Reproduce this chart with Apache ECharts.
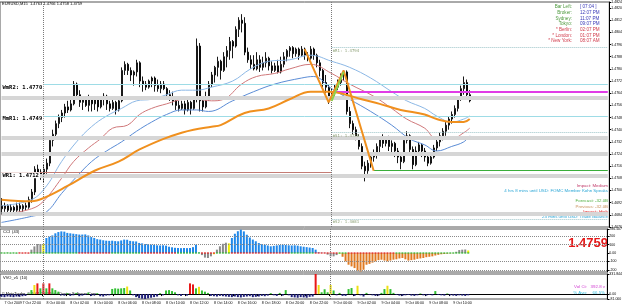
<!DOCTYPE html>
<html>
<head>
<meta charset="utf-8">
<script src="https://cdn.jsdelivr.net/npm/echarts@6/dist/echarts.min.js"></script>
<style>
  html, body { margin: 0; padding: 0; background: #fff; }
  #chart { width: 625px; height: 308px; }
</style>
</head>
<body>
<div id="chart"></div>
<script>
// EURUSD M15, one candle per 15 minutes: [open, close, low, high]
const candles = [
  [1.4690,1.4688,1.4684,1.4695],[1.4688,1.4690,1.4686,1.4692],[1.4690,1.4687,1.4685,1.4691],[1.4687,1.4689,1.4685,1.4691],
  [1.4689,1.4687,1.4685,1.4690],[1.4687,1.4690,1.4686,1.4692],[1.4690,1.4688,1.4686,1.4692],[1.4688,1.4690,1.4686,1.4691],
  [1.4690,1.4689,1.4687,1.4692],[1.4689,1.4694,1.4688,1.4696],[1.4694,1.4699,1.4692,1.4701],[1.4699,1.4714,1.4697,1.4716],
  [1.4714,1.4712,1.4709,1.4717],[1.4712,1.4710,1.4707,1.4714],[1.4710,1.4714,1.4705,1.4717],[1.4714,1.4718,1.4711,1.4721],
  [1.4718,1.4733,1.4716,1.4735],[1.4733,1.4737,1.4729,1.4740],[1.4737,1.4744,1.4734,1.4746],[1.4744,1.4748,1.4741,1.4750],
  [1.4748,1.4751,1.4745,1.4753],[1.4751,1.4755,1.4748,1.4757],[1.4755,1.4753,1.4751,1.4759],[1.4753,1.4757,1.4752,1.4760],
  [1.4757,1.4770,1.4756,1.4772],[1.4770,1.4763,1.4762,1.4771],[1.4763,1.4758,1.4755,1.4766],[1.4758,1.4760,1.4753,1.4762],
  [1.4760,1.4756,1.4755,1.4762],[1.4756,1.4761,1.4752,1.4763],[1.4761,1.4757,1.4752,1.4762],[1.4757,1.4760,1.4753,1.4762],
  [1.4760,1.4755,1.4752,1.4761],[1.4755,1.4760,1.4754,1.4762],[1.4760,1.4762,1.4756,1.4764],[1.4762,1.4757,1.4753,1.4763],
  [1.4757,1.4754,1.4752,1.4759],[1.4754,1.4758,1.4753,1.4760],[1.4758,1.4753,1.4750,1.4759],[1.4753,1.4759,1.4752,1.4762],
  [1.4759,1.4779,1.4758,1.4781],[1.4779,1.4783,1.4776,1.4785],[1.4783,1.4779,1.4776,1.4784],[1.4779,1.4776,1.4772,1.4781],
  [1.4776,1.4778,1.4769,1.4779],[1.4778,1.4784,1.4775,1.4786],[1.4784,1.4772,1.4768,1.4785],[1.4772,1.4770,1.4765,1.4775],
  [1.4770,1.4768,1.4766,1.4772],[1.4768,1.4772,1.4767,1.4773],[1.4772,1.4774,1.4768,1.4775],[1.4774,1.4769,1.4765,1.4775],
  [1.4769,1.4767,1.4765,1.4773],[1.4767,1.4770,1.4764,1.4772],[1.4770,1.4767,1.4766,1.4772],[1.4767,1.4763,1.4762,1.4768],
  [1.4763,1.4761,1.4759,1.4766],[1.4761,1.4759,1.4756,1.4765],[1.4759,1.4756,1.4753,1.4762],[1.4756,1.4754,1.4752,1.4759],
  [1.4754,1.4757,1.4753,1.4759],[1.4757,1.4753,1.4750,1.4759],[1.4753,1.4758,1.4752,1.4762],[1.4758,1.4754,1.4750,1.4759],
  [1.4754,1.4761,1.4753,1.4762],[1.4761,1.4795,1.4758,1.4800],[1.4795,1.4759,1.4752,1.4797],[1.4759,1.4755,1.4752,1.4762],
  [1.4755,1.4761,1.4754,1.4765],[1.4761,1.4770,1.4759,1.4772],[1.4770,1.4776,1.4768,1.4778],[1.4776,1.4781,1.4771,1.4782],
  [1.4781,1.4785,1.4775,1.4788],[1.4785,1.4779,1.4773,1.4786],[1.4779,1.4788,1.4778,1.4791],[1.4788,1.4792,1.4781,1.4795],
  [1.4792,1.4798,1.4786,1.4801],[1.4798,1.4795,1.4787,1.4799],[1.4795,1.4806,1.4794,1.4808],[1.4806,1.4812,1.4801,1.4814],
  [1.4812,1.4810,1.4804,1.4816],[1.4810,1.4791,1.4789,1.4814],[1.4791,1.4786,1.4784,1.4794],[1.4786,1.4783,1.4780,1.4789],
  [1.4783,1.4780,1.4779,1.4789],[1.4780,1.4786,1.4779,1.4791],[1.4786,1.4781,1.4778,1.4789],[1.4781,1.4784,1.4779,1.4788],
  [1.4784,1.4787,1.4781,1.4791],[1.4787,1.4782,1.4779,1.4788],[1.4782,1.4779,1.4777,1.4785],[1.4779,1.4782,1.4778,1.4784],
  [1.4782,1.4778,1.4777,1.4786],[1.4778,1.4783,1.4777,1.4788],[1.4783,1.4788,1.4781,1.4791],[1.4788,1.4792,1.4785,1.4793],
  [1.4792,1.4794,1.4788,1.4795],[1.4794,1.4790,1.4787,1.4795],[1.4790,1.4793,1.4788,1.4794],[1.4793,1.4789,1.4786,1.4794],
  [1.4789,1.4793,1.4788,1.4795],[1.4793,1.4789,1.4786,1.4794],[1.4789,1.4787,1.4785,1.4791],[1.4787,1.4793,1.4786,1.4795],
  [1.4793,1.4789,1.4786,1.4794],[1.4789,1.4784,1.4781,1.4790],[1.4784,1.4779,1.4775,1.4786],[1.4779,1.4771,1.4768,1.4780],
  [1.4771,1.4768,1.4764,1.4776],[1.4768,1.4762,1.4757,1.4770],[1.4762,1.4765,1.4759,1.4767],[1.4765,1.4768,1.4762,1.4770],
  [1.4768,1.4771,1.4766,1.4773],[1.4771,1.4776,1.4769,1.4777],[1.4776,1.4778,1.4772,1.4779],[1.4778,1.4752,1.4750,1.4779],
  [1.4752,1.4744,1.4741,1.4755],[1.4744,1.4740,1.4737,1.4746],[1.4740,1.4735,1.4733,1.4742],[1.4735,1.4729,1.4727,1.4737],
  [1.4729,1.4716,1.4714,1.4731],[1.4716,1.4713,1.4706,1.4719],[1.4713,1.4718,1.4711,1.4720],[1.4718,1.4722,1.4715,1.4724],
  [1.4722,1.4725,1.4719,1.4727],[1.4725,1.4729,1.4721,1.4731],[1.4729,1.4734,1.4725,1.4735],[1.4734,1.4731,1.4728,1.4737],
  [1.4731,1.4734,1.4729,1.4735],[1.4734,1.4729,1.4726,1.4736],[1.4729,1.4731,1.4725,1.4733],[1.4731,1.4726,1.4722,1.4732],
  [1.4726,1.4722,1.4718,1.4728],[1.4722,1.4719,1.4714,1.4724],[1.4719,1.4733,1.4718,1.4735],[1.4733,1.4736,1.4731,1.4739],
  [1.4736,1.4727,1.4724,1.4737],[1.4727,1.4717,1.4714,1.4729],[1.4717,1.4726,1.4716,1.4729],[1.4726,1.4730,1.4724,1.4732],
  [1.4730,1.4726,1.4722,1.4731],[1.4726,1.4722,1.4719,1.4728],[1.4722,1.4718,1.4716,1.4724],[1.4718,1.4722,1.4717,1.4725],
  [1.4722,1.4728,1.4721,1.4730],[1.4728,1.4732,1.4726,1.4734],[1.4732,1.4736,1.4729,1.4738],[1.4736,1.4739,1.4733,1.4741],
  [1.4739,1.4743,1.4736,1.4745],[1.4743,1.4747,1.4740,1.4749],[1.4747,1.4750,1.4744,1.4752],[1.4750,1.4754,1.4748,1.4756],
  [1.4754,1.4760,1.4752,1.4762],[1.4760,1.4767,1.4759,1.4769],[1.4767,1.4771,1.4763,1.4775],[1.4771,1.4763,1.4760,1.4773],
  [1.4763,1.4759,1.4758,1.4766]
]

// moving averages: [bar, price]
const maUpper = [[0,1.4690],[10,1.4694],[15,1.4703],[20,1.4719],[25,1.4732],[30,1.4742],[35,1.4749],[40,1.4754],[45,1.4759],
  [50,1.4760],[55,1.4763],[60,1.4766],[65,1.4766],[70,1.4768],[77,1.4772],[83,1.4780],[89,1.4785],[96,1.4786],[103,1.4789],
  [110,1.4785],[116,1.4781],[123,1.4774],[130,1.4765],[135,1.4759],[141,1.4754],[145,1.4749],[150,1.4745],[154,1.4747],[156,1.4749]]
const maMiddle = [[0,1.4684],[10,1.4688],[14,1.4693],[20,1.4708],[24,1.4719],[29,1.4728],[33,1.4734],[37,1.4741],[42,1.4743],
  [46,1.4750],[50,1.4754],[55,1.4757],[61,1.4760],[65,1.4760],[70,1.4759],[74,1.4760],[80,1.4770],[85,1.4775],[91,1.4777],
  [96,1.4780],[103,1.4783],[110,1.4777],[116,1.4770],[124,1.4762],[130,1.4754],[135,1.4747],[141,1.4741],[145,1.4734],
  [150,1.4734],[154,1.4738],[156,1.4741]]
const maLower = [[0,1.4679],[10,1.4683],[15,1.4686],[20,1.4698],[25,1.4709],[30,1.4719],[35,1.4726],[40,1.4732],[45,1.4739],
  [50,1.4745],[55,1.4750],[60,1.4753],[65,1.4753],[69,1.4752],[77,1.4759],[84,1.4765],[91,1.4770],[100,1.4774],[104,1.4775],
  [110,1.4767],[116,1.4760],[123,1.4752],[130,1.4743],[136,1.4734],[141,1.4730],[145,1.4726],[150,1.4729],[154,1.4732],[156,1.4736]]
const maSlow = [[0,1.4694],[10,1.4693],[14,1.4695],[22,1.4703],[31,1.4713],[39,1.4719],[46,1.4727],[54,1.4734],[60,1.4738],
  [64,1.4740],[70,1.4742],[73,1.4743],[81,1.4751],[89,1.4754],[96,1.4760],[103,1.4765],[109,1.4765],[113,1.4764],[120,1.4760],
  [126,1.4757],[133,1.4753],[141,1.4750],[145,1.4747],[150,1.4745],[154,1.4745],[156,1.4747]]
const zigzag = [[101,1.4793],[109,1.4758],[114,1.4779],[124,1.4713]]
const zigzagLeg = [[110,1.4759],[114,1.4778]]

// CCI(43) histogram and its zero-line trend (1 up, -1 down, as runs of bars)
const cciValues = [3,-2,4,-3,2,-4,3,-2,2,-3,
  40,79,107,107,107,
  179,195,210,235,250,258,255,240,235,230,225,220,220,222,210,190,180,165,160,152,
  147,145,147,142,140,150,160,158,145,140,138,120,115,107,105,100,98,92,90,92,
  88,75,68,62,60,58,60,58,60,70,99,5,
  -25,-55,-60,-40,-15,
  40,80,110,123,115,
  179,230,260,278,258,218,185,160,140,119,105,99,90,80,85,91,95,99,95,92,
  90,92,88,80,75,70,65,60,40,8,3,2,
  -20,-40,-40,-25,-8,
  -45,-100,-140,-160,-180,-210,-220,-200,-140,-130,-115,-100,-85,-80,-90,-100,-90,-80,-75,-65,
  -60,-75,-90,-85,-80,-70,-65,-60,-50,-45,-40,-30,-22,-15,-12,-8,-4,-2,
  15,35,40,42,30]
const zeroTrendRuns = [[1,6],[-1,4],[1,16],[-1,11],[1,10],[-1,12],[1,8],[-1,5],[1,5],[-1,20],[1,8],[-1,8],[1,3],[-1,16],[1,25]]

// VVO_v5(10)
const volValues = [-45,-50,-40,-45,-50,-40,-45,-35,-30,
  10,66,150,177,95,177,95,177,95,66,40,-20,
  -25,15,-30,-20,20,-35,-25,-15,25,-30,-20,15,-35,-40,-25,
  -20,85,95,90,95,100,125,60,-20,
  -50,-65,-75,-80,-70,-60,-50,-40,
  15,-20,60,66,50,30,-20,-30,-15,-25,
  177,160,95,120,60,40,20,
  -30,-35,-40,-30,-35,-40,-45,-50,-40,
  -50,-55,-45,-40,-35,-50,-45,-40,-30,-35,
  -25,15,-20,-30,20,-25,66,-20,
  -50,-55,-60,-50,-55,-60,-45,-40,
  331.8,150,30,80,30,150,60,-20,20,-30,-30,83,100,-30,138,-20,-40,20,-10,-20,-30,-25,20,83,138,83,20,
  -15,-25,-30,-20,-15,-25,-30,-20,10,-20,-25,-15,-20,
  50,-15,-20,-25,10,-20,-25,-30,-20,-25,-30,-20]

// levels
const bandLevels = [1.4761, 1.4735, 1.4724, 1.4710, 1.4685]
const weeklyLevels = [['WmR2', 1.4770], ['MmR1', 1.4749]]
const weekR1 = ['WR1', 1.4712]
const dailyLevels = [['DR1', 1.4824], ['mR1', 1.4794], ['mS1', 1.4738], ['DS1', 1.4713], ['mS2', 1.4681]]
const dayOpenLevel = 1.4765
const bid = 1.4759
const cciLevels = [200, 100, -100, -200]
const daySeparators = ['8 Oct 00:00', '9 Oct 00:00']

const infoRows = [
  ['Bar Left:', '[ 07:04 ]', '#4f9a3f', '#3a3ab8'],
  ['Broker:', '12:07 PM', '#4f9a3f', '#3a3ab8'],
  ['Sydney:', '11:07 PM', '#4f9a3f', '#3a3ab8'],
  ['Tokyo:', '09:07 PM', '#4f9a3f', '#3a3ab8'],
  ['* Berlin:', '02:07 PM', '#d03a4a', '#d03a4a'],
  ['* London:', '01:07 PM', '#d03a4a', '#d03a4a'],
  ['* New York:', '08:07 AM', '#d03a4a', '#d03a4a']
]
const newsRows = [
  ['Impact: Medium', '#c03a6a', 186],
  ['4 hrs 8 mins until USD: FOMC Member Kohn Speaks', '#2aa6d6', 191],
  ['Forecast: -32.0B', '#4fae3f', 201],
  ['Previous: -32.0B', '#c8905a', 207],
  ['Impact: High', '#e02020', 212],
  ['23 mins until USD: Trade Balance', '#2aa6d6', 217]
]

// time categories, 15 minutes apart, plus empty slots for the chart shift
const slotCount = 203
const firstBar = Date.UTC(2009, 9, 7, 20, 30)
const months = ['Jan','Feb','Mar','Apr','May','Jun','Jul','Aug','Sep','Oct','Nov','Dec']
const pad = n => (n < 10 ? '0' : '') + n
const categories = []
for (let i = 0; i < slotCount; i++) {
  const d = new Date(firstBar + i * 900000)
  categories.push(d.getUTCDate() + ' ' + months[d.getUTCMonth()] + ' ' + pad(d.getUTCHours()) + ':' + pad(d.getUTCMinutes()))
}
const firstSlot = categories[0]
const lastSlot = categories[slotCount - 1]
const dayStart = daySeparators[1]
const showTime = i => i === 0 || (i >= 6 && (i - 6) % 8 === 0 && i < candles.length)

const zeroTrend = []
zeroTrendRuns.forEach(r => { for (let k = 0; k < r[1]; k++) zeroTrend.push(r[0]) })

// Woodie style colouring: bars on one side of zero, 5th bar yellow, then trend colour
const cciColors = []
let run = 0
cciValues.forEach((v, i) => {
  const side = v >= 0 ? 1 : -1
  const prev = i > 0 ? (cciValues[i - 1] >= 0 ? 1 : -1) : 0
  run = side === prev ? run + 1 : 1
  cciColors.push(run < 5 ? '#8a8a8a' : run === 5 ? '#f2f000' : side > 0 ? '#2088ea' : '#e07a22')
})
const volColor = v => v < 0 ? '#1e1e78' : v >= 160 ? '#e81818' : v >= 110 ? '#f0e012' : '#32c032'

const FONT = 'Liberation Sans, Arial, sans-serif'
const MONO = 'DejaVu Sans Mono, monospace'
const dotted = { type: 'dotted', color: '#7a7a7a', width: 1 }

// horizontal segment between two categories
const hLine = (from, to, v, lineStyle, label) => [
  { coord: [from, v], lineStyle, label: label || { show: false } },
  { coord: [to, v] }
]
const sepLines = daySeparators.map(d => ({ xAxis: d, lineStyle: dotted }))
const pivotLabel = text => ({
  show: true, position: 'insideStartBottom', distance: 0, formatter: text,
  color: '#000', fontSize: 5.5, fontFamily: MONO, fontWeight: 'bold', backgroundColor: '#fff', padding: [0, 1]
})

const xAxisBase = (gridIndex, show) => ({
  type: 'category', gridIndex, data: categories, boundaryGap: true,
  axisLine: { show: show, lineStyle: { color: '#000', width: 1 } },
  axisTick: { show: show, interval: showTime, length: 2, lineStyle: { color: '#000' } },
  axisLabel: {
    show: show, interval: showTime, fontSize: 3.6, color: '#000', fontFamily: FONT,
    align: 'left', margin: 2, padding: [0, 0, 0, 3],
    formatter: (v, i) => i === 0 ? '7 Oct 2009' : v
  },
  splitLine: { show: false }
})

const yAxisBase = (gridIndex, extra) => Object.assign({
  type: 'value', gridIndex, position: 'right', scale: true,
  axisLine: { show: true, lineStyle: { color: '#000', width: 1 } },
  axisTick: { show: true, length: 2, lineStyle: { color: '#000' } },
  axisLabel: { fontSize: 3.5, color: '#000', fontFamily: FONT, margin: 2 },
  splitLine: { show: false }
}, extra)

const dayLineData = dailyLevels.map(([name, v]) => hLine(dayStart, lastSlot, v,
  name === 'DS1' || name === 'DR1' ? { opacity: 0 } : { type: 'dotted', color: '#9cc4c8', width: 1 },
  { show: true, position: 'insideStartBottom', distance: 1, formatter: name + ': ' + v.toFixed(4),
    color: '#8c9f74', fontSize: 4, fontFamily: MONO }))

const lowBar = categories[zigzag[zigzag.length - 1][0]]

const option = {
  animation: false,
  backgroundColor: '#fff',
  grid: [
    { left: 0, right: 15, top: 1, height: 226, show: true, borderColor: '#555', borderWidth: 1 },
    { left: 0, right: 15, top: 229, height: 43, show: true, borderColor: '#555', borderWidth: 1 },
    { left: 0, right: 15, top: 274, height: 25, show: true, borderColor: '#555', borderWidth: 1 }
  ],
  xAxis: [xAxisBase(0, false), xAxisBase(1, false), xAxisBase(2, true)],
  yAxis: [
    yAxisBase(0, { min: 1.4676, max: 1.4824, interval: 0.0008, scale: false,
      axisLabel: { fontSize: 3.5, color: '#000', fontFamily: FONT, margin: 2, formatter: v => v.toFixed(4) } }),
    yAxisBase(1, { min: -226.79, max: 286.507,
      axisTick: { show: true, length: 2, customValues: [-226.79, -200, -100, 0, 100, 200, 286.507] },
      axisLabel: { fontSize: 3.5, color: '#000', fontFamily: FONT, margin: 2,
        customValues: [-226.79, -200, -100, 0, 100, 200, 286.507],
        formatter: v => v === 0 ? '0.00' : String(v) } }),
    yAxisBase(2, { min: -81, max: 331.844,
      axisTick: { show: true, length: 2, customValues: [-81, 0, 331.844] },
      axisLabel: { fontSize: 3.5, color: '#000', fontFamily: FONT, margin: 2,
        customValues: [-81, 0, 331.844],
        formatter: v => v === 0 ? '0.00' : v === -81 ? '-81.000' : String(v) } })
  ],
  series: [
    {
      name: 'levels', type: 'line', xAxisIndex: 0, yAxisIndex: 0, data: [], z: 1,
      markLine: {
        silent: true, symbol: 'none', animation: false, label: { show: false },
        data: [
          ...bandLevels.map(v => hLine(firstSlot, lastSlot, v, { color: '#d6d6d6', width: 4, type: 'solid' })),
          ...weeklyLevels.map(([name, v]) => hLine(firstSlot, lastSlot, v, { color: '#9edce6', width: 1, type: 'solid' },
            pivotLabel(name + ': ' + v.toFixed(4)))),
          hLine(firstSlot, dayStart, weekR1[1], { color: '#c47c74', width: 1, type: 'solid' },
            pivotLabel(weekR1[0] + ': ' + weekR1[1].toFixed(4))),
          ...sepLines,
          ...dayLineData,
          hLine(dayStart, lastSlot, dayOpenLevel, { color: '#e03ce6', width: 2, type: 'solid' }),
          hLine(lowBar, lastSlot, dailyLevels[3][1], { color: '#3aae3a', width: 1, type: 'solid' })
        ]
      }
    },
    {
      name: 'EURUSD', type: 'candlestick', xAxisIndex: 0, yAxisIndex: 0, data: candles, z: 3,
      barWidth: 1.5,
      itemStyle: { color: '#fff', color0: '#000', borderColor: '#000', borderColor0: '#000', borderWidth: 0.9 },
      markLine: {
        silent: true, symbol: 'none', animation: false,
        data: [hLine(firstSlot, lastSlot, bid, { opacity: 0 },
          { show: true, position: 'end', distance: 2, formatter: bid.toFixed(4), color: '#fff', backgroundColor: '#000',
            fontSize: 3.8, fontFamily: FONT, padding: [1, 1] })]
      }
    },
    { type: 'line', xAxisIndex: 0, yAxisIndex: 0, data: maUpper, smooth: 0.4, symbol: 'none', z: 4,
      lineStyle: { color: '#8cb8e6', width: 1 } },
    { type: 'line', xAxisIndex: 0, yAxisIndex: 0, data: maMiddle, smooth: 0.4, symbol: 'none', z: 4,
      lineStyle: { color: '#d0787a', width: 1 } },
    { type: 'line', xAxisIndex: 0, yAxisIndex: 0, data: maLower, smooth: 0.4, symbol: 'none', z: 4,
      lineStyle: { color: '#5a8cd6', width: 1 } },
    { type: 'line', xAxisIndex: 0, yAxisIndex: 0, data: maSlow, smooth: 0.4, symbol: 'none', z: 5,
      lineStyle: { color: '#f0901e', width: 2 } },
    { type: 'line', xAxisIndex: 0, yAxisIndex: 0, data: zigzag, symbol: 'none', z: 6,
      lineStyle: { color: '#f0901e', width: 2 } },
    { type: 'line', xAxisIndex: 0, yAxisIndex: 0, data: zigzagLeg, symbol: 'none', z: 7,
      lineStyle: { color: '#8ed04a', width: 2 } },
    {
      name: 'CCI', type: 'bar', xAxisIndex: 1, yAxisIndex: 1, data: cciValues, barWidth: 2, z: 3,
      itemStyle: { color: p => cciColors[p.dataIndex] },
      markLine: {
        silent: true, symbol: 'none', animation: false, label: { show: false },
        data: [...cciLevels.map(v => ({ yAxis: v, lineStyle: { type: 'dotted', color: '#8a8a8a', width: 1 } })), ...sepLines]
      }
    },
    {
      type: 'scatter', xAxisIndex: 1, yAxisIndex: 1, z: 4,
      data: zeroTrend.map((t, i) => [i, 0]),
      symbol: 'rect', symbolSize: [2, 1.6],
      itemStyle: { color: p => zeroTrend[p.dataIndex] > 0 ? '#3ab83a' : '#e02828' }
    },
    {
      name: 'VVO', type: 'bar', xAxisIndex: 2, yAxisIndex: 2, data: volValues, barWidth: 2, z: 3,
      itemStyle: { color: p => volColor(p.value) },
      markLine: { silent: true, symbol: 'none', animation: false, label: { show: false }, data: sepLines }
    }
  ],
  graphic: [
    { type: 'text', x: 2, y: 4, style: { text: 'EURUSD,M15  1.4763 1.4766 1.4758 1.4759', fill: '#000', font: '4px ' + FONT, verticalAlign: 'middle' } },
    ...infoRows.flatMap((r, k) => [
      { type: 'text', x: 572, y: 7 + k * 5.7, style: { text: r[0], fill: r[2], font: '4.6px ' + FONT, align: 'right', verticalAlign: 'middle' } },
      { type: 'text', x: 580, y: 7 + k * 5.7, style: { text: r[1], fill: r[3], font: '4.6px ' + FONT, align: 'left', verticalAlign: 'middle' } }
    ]),
    ...newsRows.map(r => ({ type: 'text', x: 608, y: r[2], style: { text: r[0], fill: r[1], font: '4.4px ' + FONT, align: 'right', verticalAlign: 'middle' } })),
    { type: 'text', x: 3, y: 232, style: { text: 'CCI  (43)', fill: '#000', font: '4px ' + FONT, verticalAlign: 'middle' } },
    { type: 'text', x: 608, y: 243, style: { text: bid.toFixed(4), fill: '#e41a1a', font: 'bold 13px ' + FONT, align: 'right', verticalAlign: 'middle' } },
    { type: 'text', x: 3, y: 278, style: { text: 'VVO_v5  (10)', fill: '#000', font: '4px ' + FONT, verticalAlign: 'middle' } },
    { type: 'text', x: 2, y: 294, style: { text: '© MetaTrader, © 2001-2009 MetaQuotes Software Corp.', fill: '#000', font: '3.8px ' + FONT, verticalAlign: 'middle' } },
    { type: 'text', x: 587, y: 287, style: { text: 'Vol Ct:', fill: '#d03ad0', font: '4.4px ' + FONT, align: 'right', verticalAlign: 'middle' } },
    { type: 'text', x: 605, y: 287, style: { text: '392.8 v', fill: '#d03ad0', font: '4.4px ' + FONT, align: 'right', verticalAlign: 'middle' } },
    { type: 'text', x: 587, y: 292.5, style: { text: '% Avg:', fill: '#3ac0e0', font: '4.4px ' + FONT, align: 'right', verticalAlign: 'middle' } },
    { type: 'text', x: 605, y: 292.5, style: { text: '66.5%', fill: '#3ac0e0', font: '4.4px ' + FONT, align: 'right', verticalAlign: 'middle' } }
  ]
}

const chart = echarts.init(document.getElementById('chart'))
chart.setOption(option)
</script>
</body>
</html>
